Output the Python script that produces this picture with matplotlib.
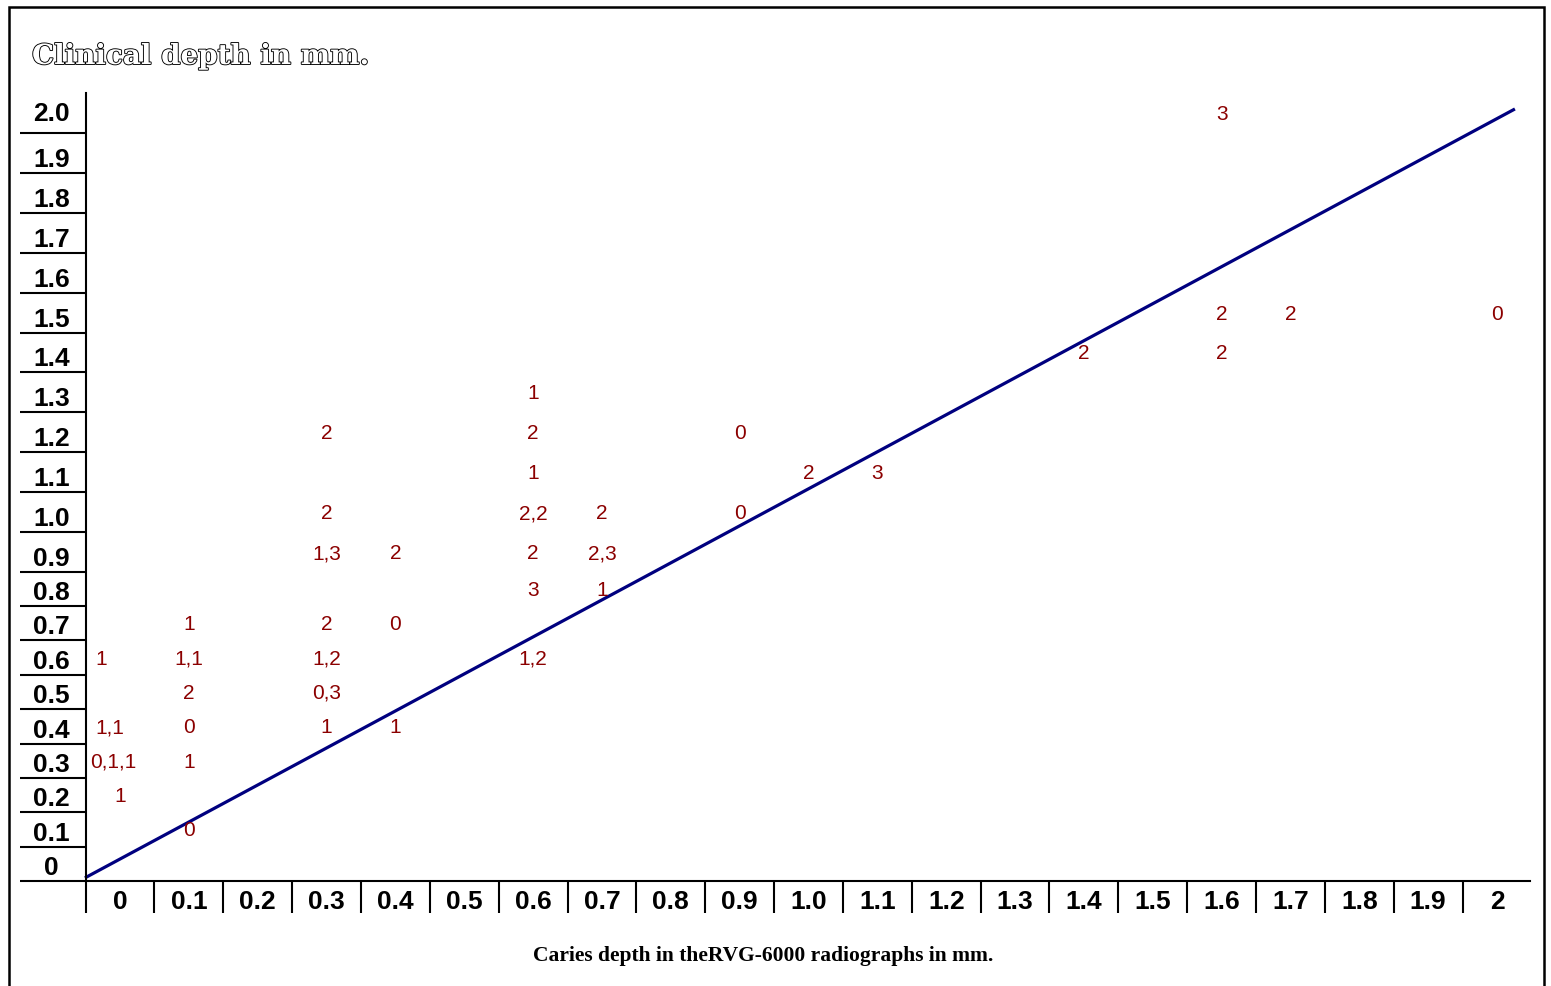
import numpy as np
import matplotlib
matplotlib.use("Agg")
import matplotlib.pyplot as plt
import matplotlib.patheffects as pe
from matplotlib.patches import Rectangle

# ---------------- data ----------------
X_TICKS = [round(0.1 * i, 1) for i in range(21)]
X_TICK_LABELS = ["0", "0.1", "0.2", "0.3", "0.4", "0.5", "0.6", "0.7", "0.8", "0.9",
                 "1.0", "1.1", "1.2", "1.3", "1.4", "1.5", "1.6", "1.7", "1.8", "1.9", "2"]
Y_TICKS = [round(0.1 * i, 1) for i in range(21)]
Y_TICK_LABELS = ["0", "0.1", "0.2", "0.3", "0.4", "0.5", "0.6", "0.7", "0.8", "0.9",
                 "1.0", "1.1", "1.2", "1.3", "1.4", "1.5", "1.6", "1.7", "1.8", "1.9", "2.0"]

# radiographic depth (x), clinical depth (y), label text
PT_X = [0, 0, 0, 0,
        0.1, 0.1, 0.1, 0.1, 0.1, 0.1,
        0.3, 0.3, 0.3, 0.3, 0.3, 0.3, 0.3,
        0.4, 0.4, 0.4,
        0.6, 0.6, 0.6, 0.6, 0.6, 0.6, 0.6,
        0.7, 0.7, 0.7,
        0.9, 0.9,
        1.0, 1.1, 1.4,
        1.6, 1.6, 1.6, 1.7, 2.0]
PT_Y = [0.6, 0.4, 0.3, 0.2,
        0.7, 0.6, 0.5, 0.4, 0.3, 0.1,
        1.2, 1.0, 0.9, 0.7, 0.6, 0.5, 0.4,
        0.9, 0.7, 0.4,
        1.3, 1.2, 1.1, 1.0, 0.9, 0.8, 0.6,
        1.0, 0.9, 0.8,
        1.2, 1.0,
        1.1, 1.1, 1.4,
        2.0, 1.5, 1.4, 1.5, 1.5]
PT_LABEL = ["1", "1,1", "0,1,1", "1",
            "1", "1,1", "2", "0", "1", "0",
            "2", "2", "1,3", "2", "1,2", "0,3", "1",
            "2", "0", "1",
            "1", "2", "1", "2,2", "2", "3", "1,2",
            "2", "2,3", "1",
            "0", "0",
            "2", "3", "2",
            "3", "2", "2", "2", "0"]
# horizontal nudges (pixels) of a few labels in the first column
PT_DX = [-19, -10, -7, 0] + [0] * 36

# reference (identity-like) line
LINE_X = [-0.051, 2.026]
LINE_Y = [-0.041, 2.01]

# piecewise-linear vertical scale of the original sheet (rows are not equally tall)
Y_KNOTS_V = [-0.05, 0.75, 0.85, 2.05]
Y_KNOTS_U = [0.0, 275.0, 309.0, 788.0]


def _pw(v, kv, ku):
    v = np.asarray(v, dtype=float)
    s0 = (ku[1] - ku[0]) / (kv[1] - kv[0])
    s1 = (ku[-1] - ku[-2]) / (kv[-1] - kv[-2])
    r = np.interp(v, kv, ku)
    r = np.where(v < kv[0], ku[0] + (v - kv[0]) * s0, r)
    r = np.where(v > kv[-1], ku[-1] + (v - kv[-1]) * s1, r)
    return r


def y_fwd(v):
    return _pw(v, Y_KNOTS_V, Y_KNOTS_U)


def y_inv(u):
    return _pw(u, Y_KNOTS_U, Y_KNOTS_V)


# ---------------- figure ----------------
W, H = 1551, 986
fig = plt.figure(figsize=(W / 100, H / 100), dpi=100)
fig.patch.set_facecolor("white")

AX_L, AX_R, AX_B, AX_T = 85.6, 1530, 881, 93
ax = fig.add_axes([AX_L / W, (H - AX_B) / H, (AX_R - AX_L) / W, (AX_B - AX_T) / H])
ax.set_yscale("function", functions=(y_fwd, y_inv))
ax.set_xlim(-0.05, 2.0479)
ax.set_ylim(-0.05, 2.05)

LW = 1.5
for s in ["top", "right"]:
    ax.spines[s].set_visible(False)
for s in ["left", "bottom"]:
    ax.spines[s].set_linewidth(LW)
    ax.spines[s].set_color("black")

# cell separators below the x axis (major ticks at cell borders)
ax.set_xticks([t - 0.05 for t in X_TICKS])
ax.set_xticks(X_TICKS, minor=True)
ax.set_xticklabels([])
ax.set_xticklabels(X_TICK_LABELS, minor=True, fontsize=19, fontweight="bold",
                   family="Liberation Sans")
ax.tick_params(axis="x", which="major", direction="out", length=23, width=LW, color="black")
ax.tick_params(axis="x", which="minor", length=0, pad=6.2)

# cell borders left of the y axis
ax.set_yticks([t - 0.05 for t in Y_TICKS[1:]])
ax.set_yticks([], minor=True)
ax.set_yticklabels([])
ax.tick_params(axis="y", which="major", direction="out", length=47.5, width=LW, color="black")

# extend bottom line to the left under the y labels
ax.plot([-66 / (AX_R - AX_L), 0], [0, 0], transform=ax.transAxes, color="black",
        lw=LW, clip_on=False, solid_capstyle="butt")

# y labels inside their cells (the top cell is taller, its label sits higher)
for v, lab in zip(Y_TICKS, Y_TICK_LABELS):
    dy = 12 if lab == "2.0" else 6
    ax.annotate(lab, xy=(0, v - 0.05), xycoords=("axes fraction", "data"),
                xytext=(-34, dy), textcoords="offset pixels",
                ha="center", va="baseline", fontsize=19, fontweight="bold",
                family="Liberation Sans", color="black", annotation_clip=False)

# reference line
ax.plot(LINE_X, LINE_Y, color="#00007F", lw=2.3, clip_on=False, solid_capstyle="butt")

# data labels
for x, y, lab, dx in zip(PT_X, PT_Y, PT_LABEL, PT_DX):
    ax.annotate(lab, xy=(x, y), xycoords="data", xytext=(dx, -7),
                textcoords="offset pixels", ha="center", va="baseline",
                fontsize=15, family="Liberation Sans", color="#8B0000",
                annotation_clip=False)

# titles
fig.text(32 / W, (H - 64) / H, "Clinical depth in mm.", ha="left", va="baseline",
         fontsize=20, fontweight="bold", family="DejaVu Serif", color="white",
         path_effects=[pe.Stroke(linewidth=1.3, foreground="black"), pe.Normal()])
fig.text(763 / W, (H - 961) / H, "Caries depth in theRVG-6000 radiographs in mm.",
         ha="center", va="baseline", fontsize=15.5, fontweight="bold",
         family="Liberation Serif", color="black")

# outer frame
fig.patches.append(Rectangle((9 / W, -0.05), (1544 - 9) / W, (H - 7) / H + 0.05,
                             transform=fig.transFigure, fill=False, edgecolor="black",
                             lw=1.8, zorder=10))

fig.savefig("out.png", dpi=100)
